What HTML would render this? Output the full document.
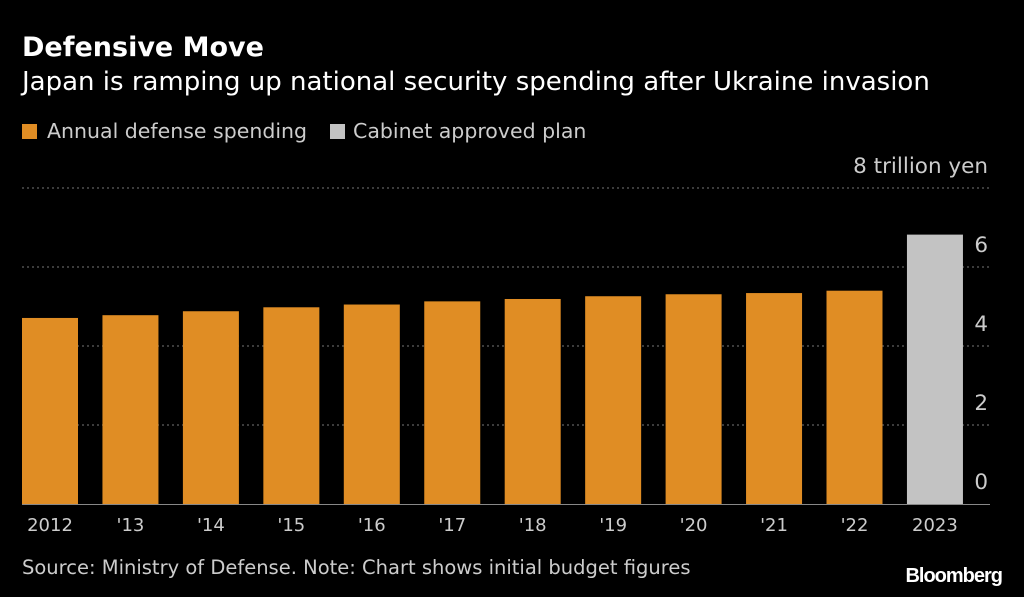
<!DOCTYPE html>
<html><head><meta charset="utf-8"><style>
body{margin:0;background:#000;width:1024px;height:597px;overflow:hidden;font-family:"DejaVu Sans",sans-serif;color:#ddd}
.t{position:absolute;white-space:nowrap}
</style></head><body>
<div class="t" style="left:22px;top:32px;font-size:27px;font-weight:bold;color:#fff">Defensive Move</div>
<div class="t" style="left:22px;top:67px;font-size:26px;color:#fff">Japan is ramping up national security spending after Ukraine invasion</div>
<div class="t" style="left:22px;top:119px;font-size:20.5px;color:#ccc"><span style="display:inline-block;width:15px;height:15px;background:#e08d24;margin-right:10px;vertical-align:-1px"></span>Annual defense spending</div>
<div class="t" style="left:330px;top:119px;font-size:20.5px;color:#ccc"><span style="display:inline-block;width:15px;height:15px;background:#c3c3c3;margin-right:8px;vertical-align:-1px"></span>Cabinet approved plan</div>
<svg id="c" width="1024" height="597" style="position:absolute;left:0;top:0"></svg>
<div class="t" style="left:22px;top:556px;font-size:19.5px;color:#ccc">Source: Ministry of Defense. Note: Chart shows initial budget figures</div>
<div class="t" style="right:22px;top:565px;font-size:20px;font-weight:bold;color:#fff;letter-spacing:-1px;font-family:'Liberation Sans',sans-serif">Bloomberg</div>
<script>
const categories=["2012","'13","'14","'15","'16","'17","'18","'19","'20","'21","'22","2023"];
const values=[4.71,4.78,4.88,4.98,5.05,5.13,5.19,5.26,5.31,5.34,5.40,6.82];
const isPlan=[0,0,0,0,0,0,0,0,0,0,0,1];
const ticks=[0,2,4,6,8];
const tickLabels=["0","2","4","6","8 trillion yen"];
const svg=document.getElementById('c');const NS='http://www.w3.org/2000/svg';
const y=v=>504-v*39.5;
const x=i=>22+i*80.45;
function mk(t,a){const e=document.createElementNS(NS,t);for(const k in a)e.setAttribute(k,a[k]);svg.appendChild(e);return e;}
ticks.forEach((t,i)=>{
 if(t>0){const l=mk('line',{x1:22,x2:990,y1:y(t),y2:y(t),stroke:'#777','stroke-width':1,'stroke-dasharray':'2,3'});
 
 }
 const tx=mk('text',{x:988,y:y(t)-15,'text-anchor':'end',fill:'#ccc','font-size':21.5,'font-family':'DejaVu Sans'});
 tx.textContent=tickLabels[i];
 
 
});
values.forEach((v,i)=>{
 const r=mk('rect',{x:x(i),y:y(v),width:56,height:y(0)-y(v),fill:isPlan[i]?'#c3c3c3':'#e08d24'});
 
 
 const tx=mk('text',{x:x(i)+28,y:531,'text-anchor':'middle',fill:'#ccc','font-size':18,'font-family':'DejaVu Sans'});
 tx.textContent=categories[i];
 
 
});
const b=mk('line',{x1:22,x2:990,y1:504.5,y2:504.5,stroke:'#888','stroke-width':1});


</script>
</body></html>
